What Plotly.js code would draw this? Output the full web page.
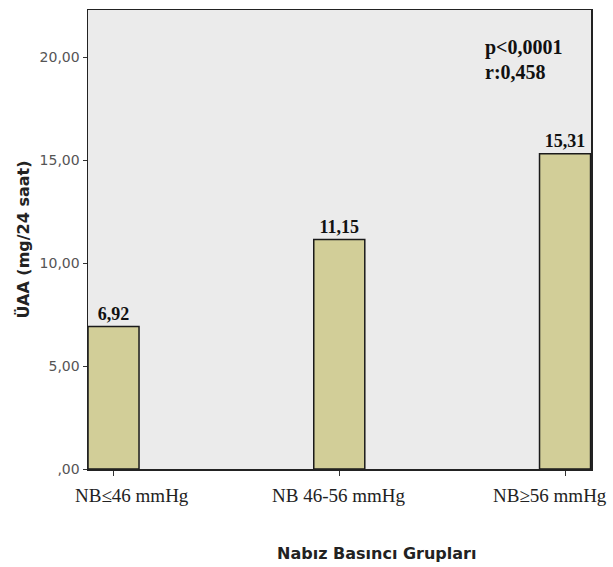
<!DOCTYPE html>
<html>
<head>
<meta charset="utf-8">
<script src="https://cdn.plot.ly/plotly-3.0.1.min.js"></script>
<style>html,body{margin:0;padding:0;background:#fff;}#chart{width:613px;height:567px;}</style>
</head>
<body>
<div id="chart"></div>
<script>
const categories = ["NB≤46 mmHg", "NB 46-56 mmHg", "NB≥56 mmHg"];
const values = [6.92, 11.15, 15.31];
const valueLabels = ["6,92", "11,15", "15,31"];
const yTickVals = [0, 5, 10, 15, 20];
const yTickText = [",00", "5,00", "10,00", "15,00", "20,00"];
const xTitle = "Nabız Basıncı Grupları";
const yTitle = "ÜAA (mg/24 saat)";
const statLines = ["p<0,0001", "r:0,458"];

const xPos = categories.map((c, i) => i);
// edge labels are pulled inward (as in the SPSS original)
const labelShift = [18, 0, -15];

const trace = {
  type: "bar",
  x: xPos,
  y: values,
  width: 0.226,
  marker: {color: "#d2ce98", line: {color: "#1a1a1a", width: 1.5}},
  text: valueLabels,
  textposition: "outside",
  cliponaxis: false,
  textfont: {family: "Liberation Serif, Times New Roman, serif", size: 18, color: "#111"},
  texttemplate: "<b>%{text}</b>",
  hoverinfo: "skip"
};

const serif = "Liberation Serif, Times New Roman, serif";
const annotations = categories.map((c, i) => ({
  xref: "x", yref: "paper", x: xPos[i], y: -0.0588, xanchor: "center", yanchor: "middle",
  xshift: labelShift[i], showarrow: false, text: c,
  font: {family: serif, size: 19, color: "#222"}
}));
annotations.push({
  xref: "paper", yref: "paper", x: 0.5726, y: -0.185, xanchor: "center", yanchor: "middle",
  showarrow: false, text: "<b>" + xTitle + "</b>",
  font: {family: "DejaVu Sans, sans-serif", size: 16, color: "#222"}
});
const statY = [0.919, 0.865];
statLines.forEach((s, i) => annotations.push({
  xref: "paper", yref: "paper", x: 0.785, y: statY[i], xanchor: "left", yanchor: "middle",
  showarrow: false, align: "left", text: "<b>" + s + "</b>",
  font: {family: serif, size: 20, color: "#111"}
}));

const layout = {
  width: 613, height: 567,
  margin: {l: 88, r: 22, t: 10, b: 98},
  paper_bgcolor: "#ffffff",
  plot_bgcolor: "#ebebeb",
  showlegend: false,
  xaxis: {
    range: [-0.113, 2.115],
    tickvals: xPos,
    showticklabels: false,
    ticks: "outside", ticklen: 5, tickcolor: "#333", tickwidth: 1,
    showline: true, linecolor: "#222", linewidth: 1.5, mirror: true,
    showgrid: false, zeroline: false
  },
  yaxis: {
    range: [0, 22.3],
    tickvals: yTickVals,
    ticktext: yTickText,
    ticks: "outside", ticklen: 4, tickcolor: "#333", tickwidth: 1,
    showline: true, linecolor: "#222", linewidth: 1.5, mirror: true,
    showgrid: false, zeroline: false,
    tickfont: {family: "DejaVu Sans, sans-serif", size: 14, color: "#555"},
    title: {text: "<b>" + yTitle + "</b>", font: {family: "DejaVu Sans, sans-serif", size: 16, color: "#222"}, standoff: 6}
  },
  annotations: annotations
};

Plotly.newPlot("chart", [trace], layout, {displayModeBar: false, staticPlot: true});
</script>
</body>
</html>
